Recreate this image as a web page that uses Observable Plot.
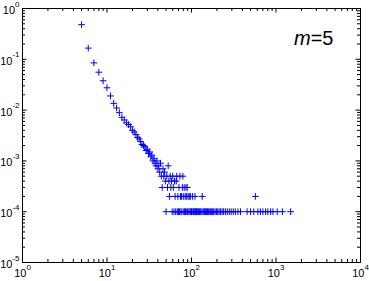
<!DOCTYPE html>
<html><head><meta charset="utf-8">
<script src="https://cdn.jsdelivr.net/npm/d3@7"></script>
<script src="https://cdn.jsdelivr.net/npm/@observablehq/plot@0.6"></script>
<style>html,body{margin:0;padding:0;background:#fff;} #chart svg{display:block;}</style>
</head><body><div id="chart"></div>
<script>
// Degree k and its probability P(k)
const degree = [5,6,7,8,9,10,11,12,13,14,15,16,17,18,19,20,21,22,23,24,25,26,27,28,29,
  30,31,32,33,34,35,36,37,38,39,40,41,42,43,44,45,46,47,48,49,50,51,52,53,54,55,56,57,58,59,
  60,61,62,63,64,65,66,67,68,69,70,71,72,73,74,75,76,77,78,79,80,81,82,83,84,85,86,87,88,89,90,91,
  93,94,96,97,98,100,101,103,104,106,108,110,111,113,115,117,120,122,125,127,130,134,136,140,143,147,
  150,155,158,162,167,172,178,183,190,197,204,212,220,230,240,252,265,280,295,312,330,355,380,
  455,500,546,570,610,653,700,754,800,865,920,1035,1190,1490];
const probability = [0.48,0.166,0.085,0.0557,0.0378,0.0275,0.019,0.0136,0.011,0.0089,0.0072,0.0064,0.0056,0.0052,0.0047,0.004,0.0037,0.0033,0.0029,0.0027,0.0024,0.0021,0.002,0.0019,0.0016,
  0.0017,0.0014,0.0015,0.0012,0.0013,0.001,0.0011,0.0009,0.0008,0.001,0.0007,0.0008,0.0006,0.0009,0.0005,0.0003,0.0007,0.0005,0.0006,0.0004,0.0001,0.0005,0.0003,0.0008,0.0004,0.0002,0.0005,0.0003,0.0004,0.0001,
  0.0005,0.0003,0.0001,0.0004,0.0002,0.0001,0.0004,0.0005,0.0001,0.0002,0.0001,0.0003,0.0001,0.0005,0.0002,0.0001,0.0002,0.0001,0.0003,0.0005,0.0002,0.0001,0.0003,0.0001,0.0002,0.0001,0.0003,0.0002,0.0001,0.0003,0.0001,0.0002,
  0.0001,0.0002,0.0001,0.0002,0.0001,0.0001,0.0001,0.0002,0.0001,0.0001,0.0001,0.0002,0.0001,0.0001,0.0001,0.0001,0.0001,0.0001,0.0001,0.0001,0.0001,0.0002,0.0001,0.0001,0.0001,0.0001,
  0.0001,0.0001,0.0001,0.0001,0.0001,0.0001,0.0001,0.0001,0.0001,0.0001,0.0001,0.0001,0.0001,0.0001,0.0001,0.0001,0.0001,0.0001,0.0001,0.0001,0.0001,0.0001,0.0001,
  0.0001,0.0001,0.0001,0.0002,0.0001,0.0001,0.0001,0.0001,0.0001,0.0001,0.0001,0.0001,0.0001,0.0001];
const xMajorTicks = [1, 10, 100, 1000, 10000];
const yMajorTicks = [1e-5, 1e-4, 1e-3, 1e-2, 1e-1, 1];
const annotation = "m=5";

const W = 369, H = 281, mL = 22, mR = 9, mT = 8, mB = 19;
const fw = W - mL - mR, fh = H - mT - mB;
const majLen = 4.5, minLen = 3;

function minors(majors) {
  const out = [];
  for (let i = 0; i < majors.length - 1; i++)
    for (let m = 2; m <= 9; m++) out.push(majors[i] * m);
  return out;
}
const xMinorTicks = minors(xMajorTicks);
const yMinorTicks = minors(yMajorTicks);
const expFmt = d => `10^${Math.round(Math.log10(d))}`;
const ink = "black";

const chart = Plot.plot({
  width: W, height: H,
  marginLeft: mL, marginRight: mR, marginTop: mT, marginBottom: mB,
  style: {fontFamily: "'Liberation Sans', Arial, sans-serif", fontSize: "11px", background: "white", color: "black"},
  x: {type: "log", domain: [1, 10000]},
  y: {type: "log", domain: [1e-5, 1]},
  marks: [
    // ticks, inward, on all four sides
    Plot.ruleX(xMajorTicks, {x: d => d, insetTop: fh - majLen, stroke: ink}),
    Plot.ruleX(xMajorTicks, {x: d => d, insetBottom: fh - majLen, stroke: ink}),
    Plot.ruleX(xMinorTicks, {x: d => d, insetTop: fh - minLen, stroke: ink}),
    Plot.ruleX(xMinorTicks, {x: d => d, insetBottom: fh - minLen, stroke: ink}),
    Plot.ruleY(yMajorTicks, {y: d => d, insetRight: fw - majLen, stroke: ink}),
    Plot.ruleY(yMajorTicks, {y: d => d, insetLeft: fw - majLen, stroke: ink}),
    Plot.ruleY(yMinorTicks, {y: d => d, insetRight: fw - minLen, stroke: ink}),
    Plot.ruleY(yMinorTicks, {y: d => d, insetLeft: fw - minLen, stroke: ink}),
    Plot.axisX(xMajorTicks, {anchor: "bottom", tickSize: 0, tickPadding: 7, tickFormat: expFmt, label: null, fontSize: 11}),
    Plot.axisY(yMajorTicks, {anchor: "left", tickSize: 0, tickPadding: 3, dy: 2, tickFormat: expFmt, label: null, fontSize: 11}),
    Plot.dot(degree, {x: d => d, y: (d, i) => probability[i], symbol: "plus", r: 2.3, stroke: "#0000ff", strokeWidth: 1}),
    Plot.frame({stroke: ink}),
    Plot.text([annotation], {frameAnchor: "top-right", text: d => d, fontSize: 20, lineAnchor: "top", textAnchor: "end", dx: -27, dy: 22, fill: "black"})
  ]
});

// superscript exponents & italic variable, kept as real text
const NS = "http://www.w3.org/2000/svg";
chart.querySelectorAll("text").forEach(t => {
  const s = t.textContent;
  const m = /^10\^(-?\d+)$/.exec(s);
  if (m) {
    t.textContent = "10";
    const sup = document.createElementNS(NS, "tspan");
    sup.setAttribute("font-size", "8");
    sup.setAttribute("dy", "-7.5");
    sup.textContent = m[1];
    t.appendChild(sup);
  } else if (s === annotation) {
    t.textContent = "";
    const it = document.createElementNS(NS, "tspan");
    it.setAttribute("font-style", "italic");
    it.textContent = "m";
    t.appendChild(it);
    t.appendChild(document.createTextNode("=5"));
  }
});
document.getElementById("chart").appendChild(chart);
</script>
</body></html>
